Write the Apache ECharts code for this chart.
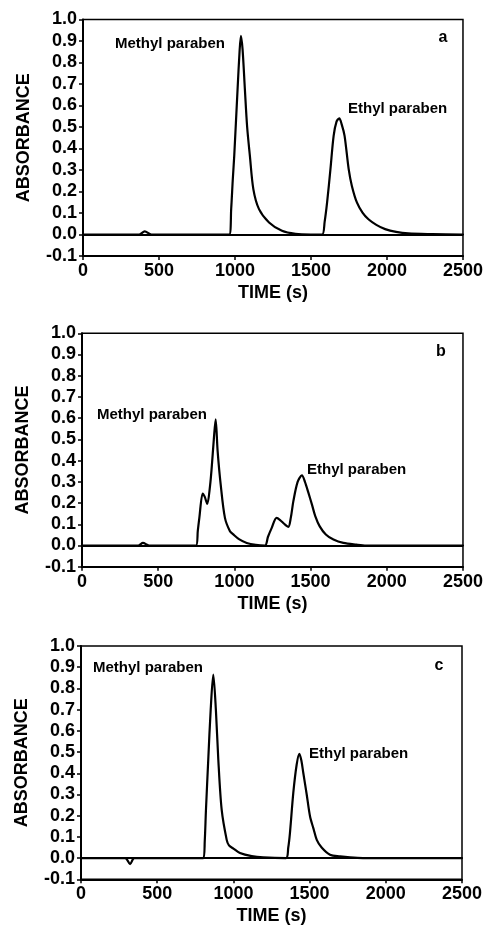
<!DOCTYPE html>
<html>
<head>
<meta charset="utf-8">
<script src="https://cdn.jsdelivr.net/npm/echarts@6/dist/echarts.min.js"></script>
<style>
html,body{margin:0;padding:0;background:#fff;}
#c{width:486px;height:928px;}
</style>
</head>
<body>
<div id="c"></div>
<script>
// Panel a
const timeA = [0, 300, 370, 406, 450, 500, 900, 962, 975, 985, 995, 1017, 1030, 1039, 1050, 1065, 1080, 1098, 1121, 1158, 1224, 1309, 1398, 1500, 1573, 1590, 1606, 1628, 1649, 1668, 1686, 1703, 1721, 1748, 1769, 1802, 1839, 1878, 1930, 1988, 2060, 2140, 2300, 2500];
const absA  = [0, 0, 0, 0.015, 0, 0, 0, 0, 0.12, 0.25, 0.366, 0.676, 0.85, 0.924, 0.86, 0.676, 0.5, 0.366, 0.21, 0.118, 0.056, 0.017, 0.003, 0, 0, 0.06, 0.149, 0.304, 0.459, 0.525, 0.54, 0.51, 0.459, 0.304, 0.226, 0.149, 0.102, 0.071, 0.045, 0.025, 0.012, 0.005, 0.002, 0];
// Panel b
const timeB = [0, 370, 400, 440, 748, 760, 770, 792, 805, 822, 840, 851, 865, 877, 890, 910, 938, 971, 993, 1030, 1081, 1140, 1201, 1220, 1245, 1277, 1300, 1330, 1354, 1370, 1387, 1415, 1443, 1463, 1485, 1510, 1530, 1560, 1600, 1650, 1715, 1800, 1865, 2500];
const absB  = [0, 0, 0.012, 0, 0, 0.07, 0.13, 0.245, 0.23, 0.196, 0.28, 0.366, 0.5, 0.594, 0.445, 0.288, 0.13, 0.067, 0.052, 0.03, 0.012, 0.003, 0, 0.04, 0.083, 0.13, 0.12, 0.1, 0.088, 0.13, 0.209, 0.3, 0.33, 0.3, 0.25, 0.19, 0.14, 0.09, 0.052, 0.028, 0.012, 0.004, 0, 0];
// Panel c
const timeC = [0, 290, 322, 350, 803, 812, 820, 835, 851, 868, 885, 901, 923, 956, 971, 1000, 1043, 1120, 1196, 1345, 1360, 1371, 1393, 1415, 1433, 1446, 1459, 1481, 1503, 1525, 1547, 1579, 1634, 1700, 1765, 1850, 2500];
const absC  = [0, 0, -0.028, 0, 0, 0.08, 0.228, 0.464, 0.7, 0.865, 0.7, 0.464, 0.228, 0.086, 0.06, 0.045, 0.024, 0.009, 0.003, 0, 0.05, 0.118, 0.307, 0.44, 0.492, 0.46, 0.40, 0.3, 0.196, 0.14, 0.086, 0.05, 0.016, 0.008, 0.003, 0, 0];

const panelLetters = ['a', 'b', 'c'];
const compoundNames = ['Methyl paraben', 'Ethyl paraben'];
const xTitle = 'TIME (s)';
const yTitle = 'ABSORBANCE';

const FONT = '"Liberation Sans", Arial, Helvetica, sans-serif';
const grids = [
  {left: 83, top: 19.5, width: 382, height: 236.5},
  {left: 82, top: 333.3, width: 381, height: 233.4},
  {left: 81, top: 646, width: 381, height: 233.3}
];
const series = [timeA.map((t,i)=>[t,absA[i]]), timeB.map((t,i)=>[t,absB[i]]), timeC.map((t,i)=>[t,absC[i]])];

const labelPos = [
  {m:[115,44], e:[348,109], l:[443,38]},
  {m:[97,415], e:[307,470], l:[441,352]},
  {m:[93,668], e:[309,754], l:[439,666]}
];

const option = {
  animation: false,
  backgroundColor: '#fff',
  grid: grids.map(g => Object.assign({show:true, borderColor:'#000', borderWidth:1.5, backgroundColor:'transparent'}, g)),
  xAxis: grids.map((g,i) => ({
    type:'value', gridIndex:i, min:0, max:2500, interval:500,
    name: xTitle, nameLocation:'middle', nameGap: 28,
    nameTextStyle:{fontFamily:FONT, fontWeight:'bold', fontSize:18, color:'#000'},
    axisLine:{show:true, onZero:false, lineStyle:{color:'#000', width:2}},
    axisTick:{show:true, inside:false, length:4, lineStyle:{color:'#000', width:1.5}},
    axisLabel:{fontFamily:FONT, fontWeight:'bold', fontSize:18, color:'#000', margin:6,
      formatter: v => String(Math.round(v))},
    splitLine:{show:false}
  })),
  yAxis: grids.map((g,i) => ({
    type:'value', gridIndex:i, min:-0.1, max:1.0, interval:0.1,
    name: yTitle, nameLocation:'middle', nameGap: 50, nameRotate: 90,
    nameTextStyle:{fontFamily:FONT, fontWeight:'bold', fontSize:18, color:'#000'},
    axisLine:{show:true, onZero:false, lineStyle:{color:'#000', width:2}},
    axisTick:{show:true, inside:false, length:4, lineStyle:{color:'#000', width:1.5}},
    axisLabel:{fontFamily:FONT, fontWeight:'bold', fontSize:18, color:'#000', margin:6,
      formatter: v => v.toFixed(1)},
    splitLine:{show:false}
  })),
  series: series.map((d,i) => ({
    type:'line', xAxisIndex:i, yAxisIndex:i, data:d, smooth:0.3, showSymbol:false, symbol:'none',
    lineStyle:{color:'#000', width:2.2, join:'round', cap:'round'},
    silent:true,
    markLine:{silent:true, symbol:['none','none'], label:{show:false},
      lineStyle:{color:'#000', width:2, type:'solid'}, data:[{yAxis:0}]}
  })),
  graphic: labelPos.flatMap((p,i) => [
    {type:'text', x:p.m[0], y:p.m[1], style:{text:compoundNames[0], font:'bold 15px '+FONT, fill:'#000', align:'left', verticalAlign:'middle'}},
    {type:'text', x:p.e[0], y:p.e[1], style:{text:compoundNames[1], font:'bold 15px '+FONT, fill:'#000', align:'left', verticalAlign:'middle'}},
    {type:'text', x:p.l[0], y:p.l[1], style:{text:panelLetters[i], font:'bold 16px '+FONT, fill:'#000', align:'center', verticalAlign:'middle'}}
  ])
};
const chart = echarts.init(document.getElementById('c'), null, {renderer:'canvas'});
chart.setOption(option);
</script>
</body>
</html>
